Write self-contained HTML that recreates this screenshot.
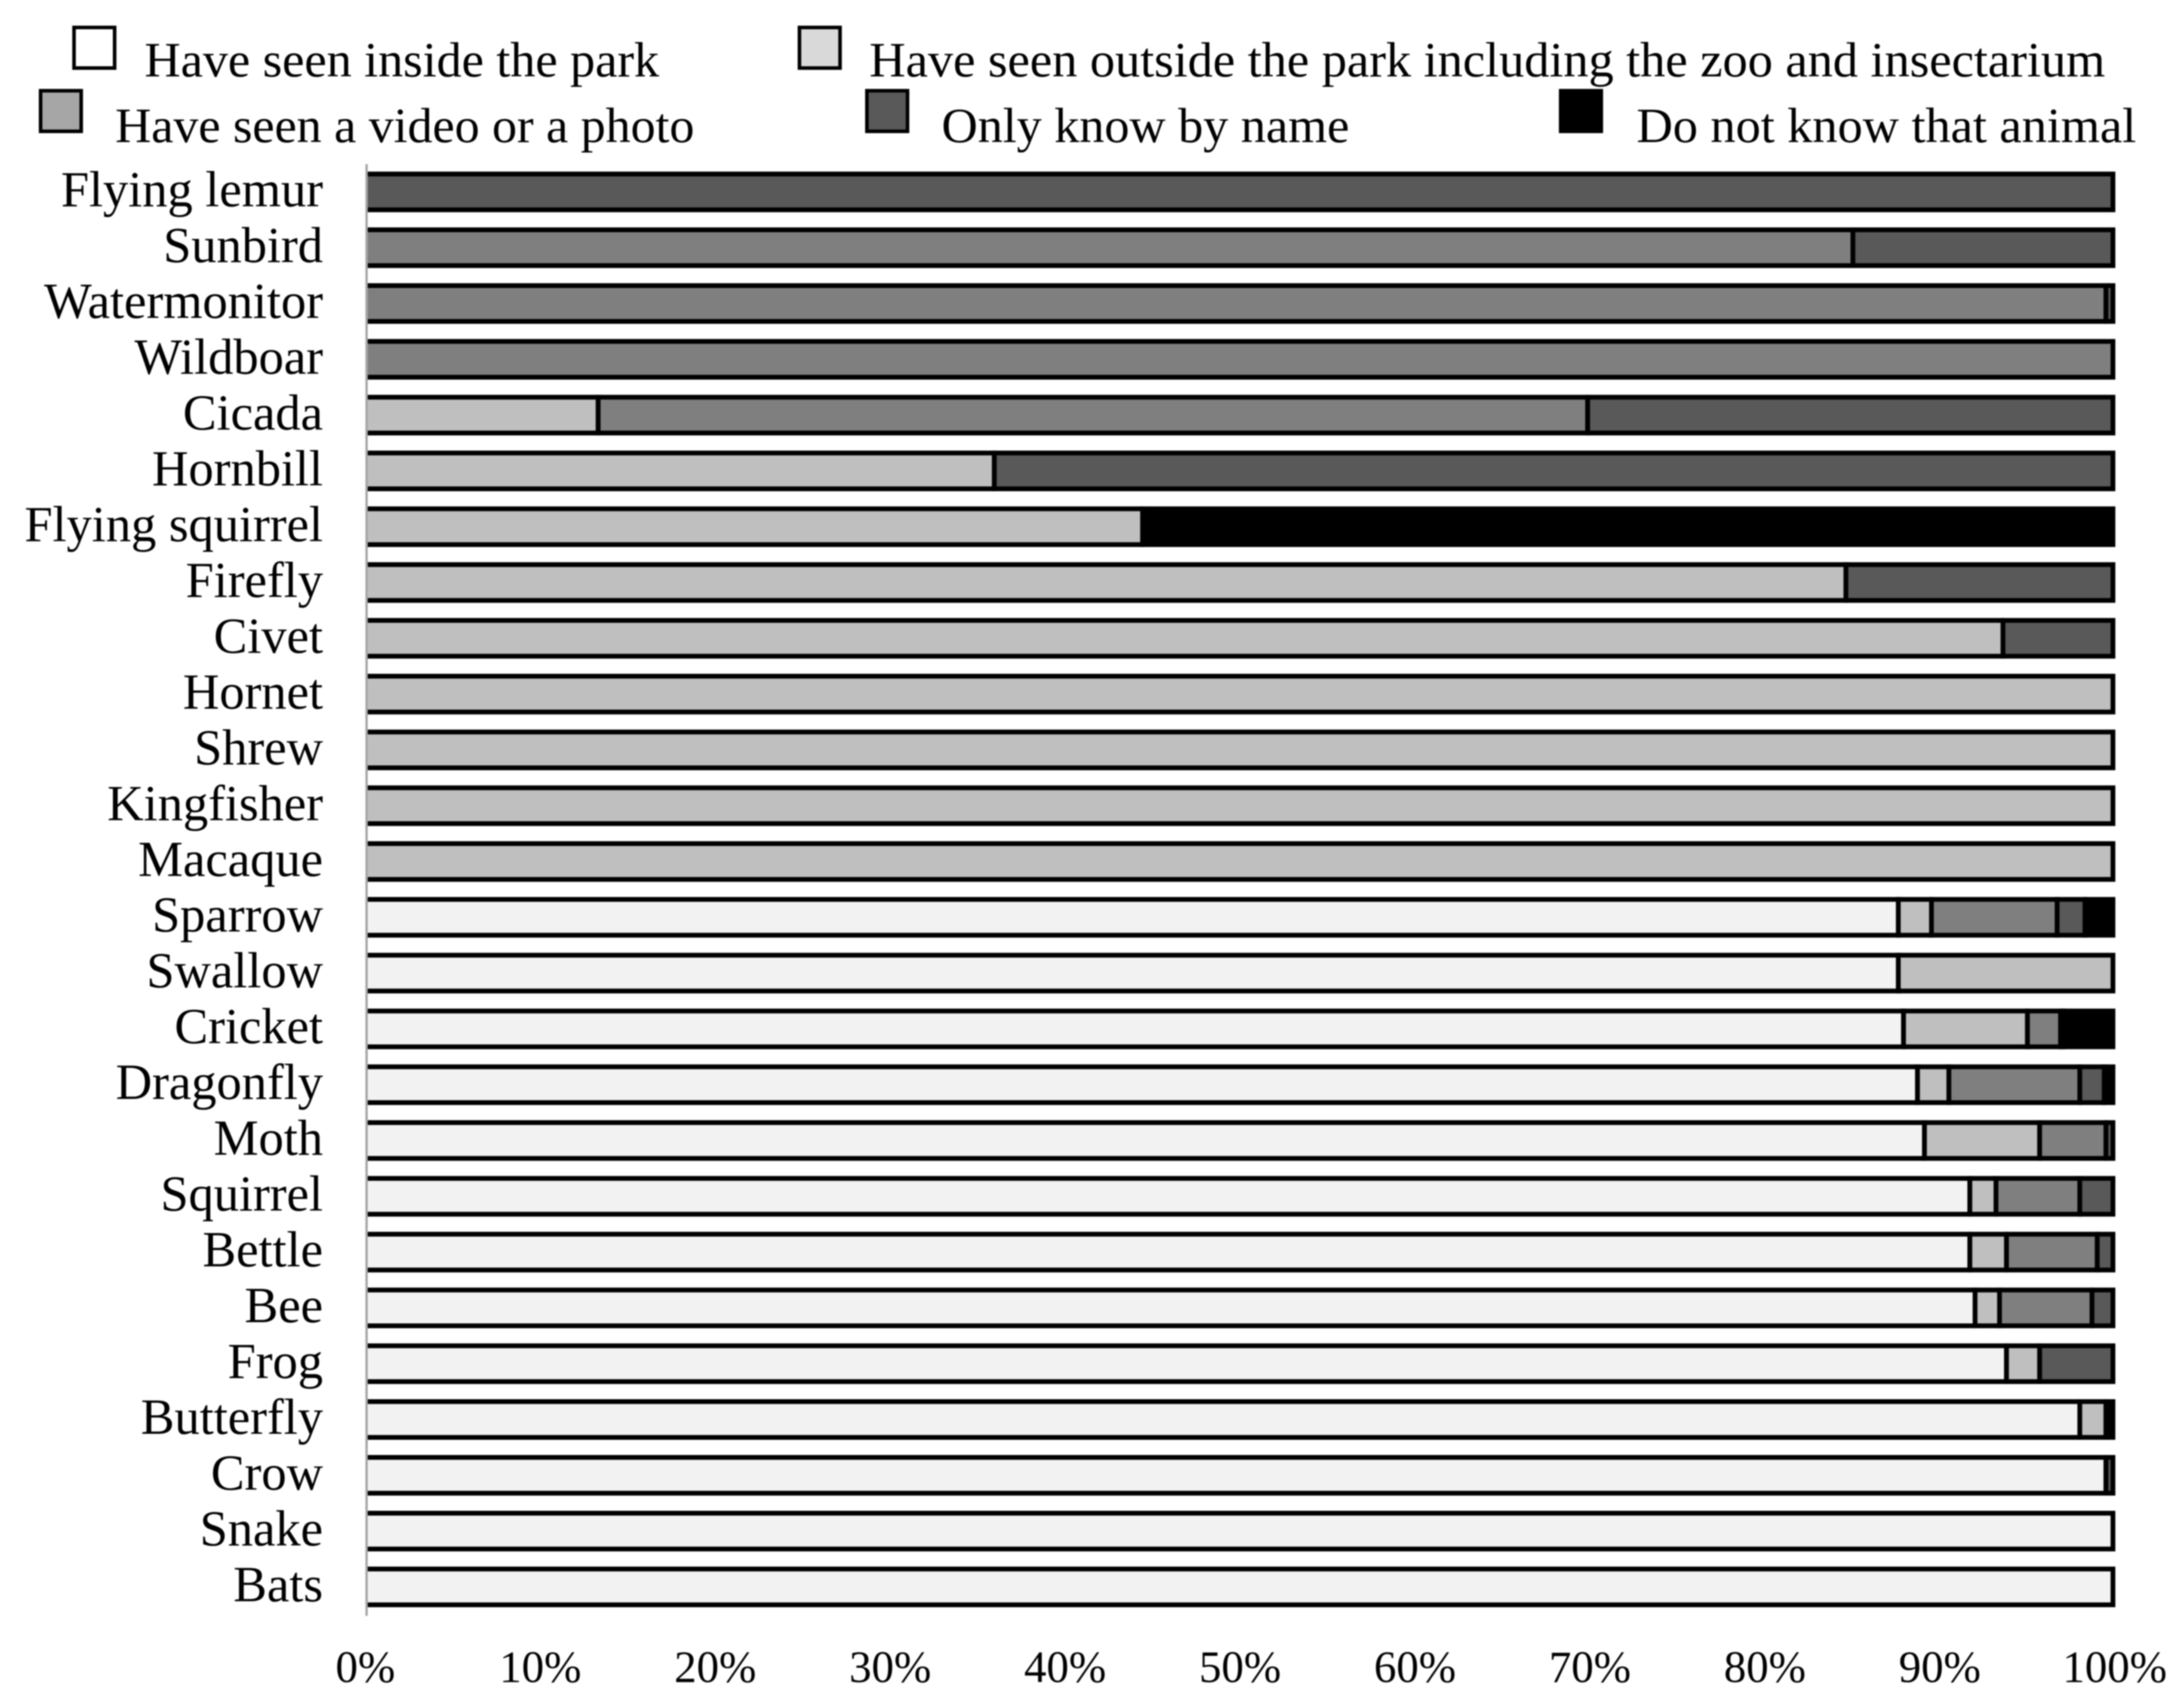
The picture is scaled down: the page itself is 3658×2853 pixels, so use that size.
<!DOCTYPE html>
<html lang="en">
<head>
<meta charset="utf-8">
<title>Animal familiarity stacked bar chart</title>
<style>
html,body{margin:0;padding:0;background:#fff;width:3658px;height:2853px;overflow:hidden}
svg{display:block;filter:blur(1.1px)}
text{font-family:"Liberation Serif",serif;fill:#000}
</style>
</head>
<body>
<svg id="chart" xmlns="http://www.w3.org/2000/svg" width="3658" height="2853" viewBox="0 0 3658 2853">
  <rect x="0" y="0" width="3658" height="2853" fill="#fff"/>
  <defs>
    <clipPath id="plot-clip"><rect x="614" y="270" width="2960" height="2440"/></clipPath>
  </defs>
  <g>
    <rect x="124" y="46" width="68" height="68" fill="#fff" stroke="#000" stroke-width="6"/>
    <text x="242" y="128" font-size="83" textLength="862" lengthAdjust="spacingAndGlyphs">Have seen inside the park</text>
    <rect x="1339" y="46" width="68" height="68" fill="#d9d9d9" stroke="#000" stroke-width="6"/>
    <text x="1456" y="128" font-size="83" textLength="2070" lengthAdjust="spacingAndGlyphs">Have seen outside the park including the zoo and insectarium</text>
    <rect x="68" y="152" width="68" height="68" fill="#a6a6a6" stroke="#000" stroke-width="6"/>
    <text x="193" y="238" font-size="83" textLength="970" lengthAdjust="spacingAndGlyphs">Have seen a video or a photo</text>
    <rect x="1452" y="152" width="68" height="68" fill="#595959" stroke="#000" stroke-width="6"/>
    <text x="1577" y="238" font-size="83" textLength="683" lengthAdjust="spacingAndGlyphs">Only know by name</text>
    <rect x="2614" y="152" width="68" height="68" fill="#000" stroke="#000" stroke-width="6"/>
    <text x="2741" y="238" font-size="83" textLength="837" lengthAdjust="spacingAndGlyphs">Do not know that animal</text>
  </g>
  <g id="bars" clip-path="url(#plot-clip)"></g>
  <g id="labels"></g>
  <g id="ticks"></g>
  <line x1="614" y1="275" x2="614" y2="2707" stroke="#a6a6a6" stroke-width="4"/>
</svg>
<script>
const categories = ["Flying lemur","Sunbird","Watermonitor","Wildboar","Cicada","Hornbill","Flying squirrel","Firefly","Civet","Hornet","Shrew","Kingfisher","Macaque","Sparrow","Swallow","Cricket","Dragonfly","Moth","Squirrel","Bettle","Bee","Frog","Butterfly","Crow","Snake","Bats"];
const seenInside  = [0,0,0,0,0,0,0,0,0,0,0,0,0,87.7,87.7,88.0,88.8,89.2,91.8,91.8,92.1,93.9,98.1,99.6,100,100];
const seenOutside = [0,0,0,0,13.2,35.9,44.4,84.7,93.7,100,100,100,100,1.9,12.3,7.1,1.8,6.6,1.5,2.1,1.4,1.9,1.5,0,0,0];
const seenVideo   = [0,85.1,99.6,100,56.7,0,0,0,0,0,0,0,0,7.2,0,1.9,7.5,3.8,4.8,5.2,5.3,0,0,0,0,0];
const knowName    = [100,14.9,0.4,0,30.1,64.1,0,15.3,6.3,0,0,0,0,1.6,0,0.2,1.4,0.4,1.9,0.9,1.2,4.2,0,0.4,0,0];
const unknownAnimal = [0,0,0,0,0,0,55.6,0,0,0,0,0,0,1.6,0,2.8,0.5,0,0,0,0,0,0.4,0,0,0];
const tickValues = [0,10,20,30,40,50,60,70,80,90,100];
const tickLabels = ["0%","10%","20%","30%","40%","50%","60%","70%","80%","90%","100%"];

const NS = "http://www.w3.org/2000/svg";
const seriesList = [seenInside, seenOutside, seenVideo, knowName, unknownAnimal];
const seriesFills = ["#f2f2f2", "#bfbfbf", "#7f7f7f", "#595959", "#000000"];
const seriesKeys = ["inside", "outside", "video", "name", "unknown"];

function xScale(v) { return 616 + v * (3539 - 616) / 100; }
function tickScale(v) { return 612 + v * (3542 - 612) / 100; }
function bandTop(i) { return 291.5 + i * (2628.5 - 291.5) / 25; }
const BAND_H = 60;

const barsGroup = document.getElementById("bars");
const labelsGroup = document.getElementById("labels");
const ticksGroup = document.getElementById("ticks");

categories.forEach(function (cat, i) {
  let cum = 0;
  let first = true;
  const y = bandTop(i);
  seriesList.forEach(function (series, s) {
    const v = series[i];
    if (v <= 0) return;
    const x1 = xScale(cum);
    const x2 = xScale(cum + v);
    const left = first ? x1 - 10 : x1;
    const r = document.createElementNS(NS, "rect");
    r.setAttribute("x", left);
    r.setAttribute("y", y);
    r.setAttribute("width", x2 - left);
    r.setAttribute("height", BAND_H);
    r.setAttribute("fill", seriesFills[s]);
    r.setAttribute("stroke", "#000");
    r.setAttribute("stroke-width", "8");
    
    
    r.setAttribute("data-series", seriesKeys[s]);
    barsGroup.appendChild(r);
    cum += v;
    first = false;
  });
  const t = document.createElementNS(NS, "text");
  t.setAttribute("x", 541);
  t.setAttribute("y", y + BAND_H / 2 + 24);
  t.setAttribute("font-size", "84.5");
  t.setAttribute("text-anchor", "end");
  t.textContent = cat;
  
  
  labelsGroup.appendChild(t);
});

tickValues.forEach(function (v, i) {
  const t = document.createElementNS(NS, "text");
  t.setAttribute("x", tickScale(v));
  t.setAttribute("y", 2818);
  t.setAttribute("font-size", "75");
  t.setAttribute("text-anchor", "middle");
  t.textContent = tickLabels[i];
  
  
  ticksGroup.appendChild(t);
});
</script>
</body>
</html>
